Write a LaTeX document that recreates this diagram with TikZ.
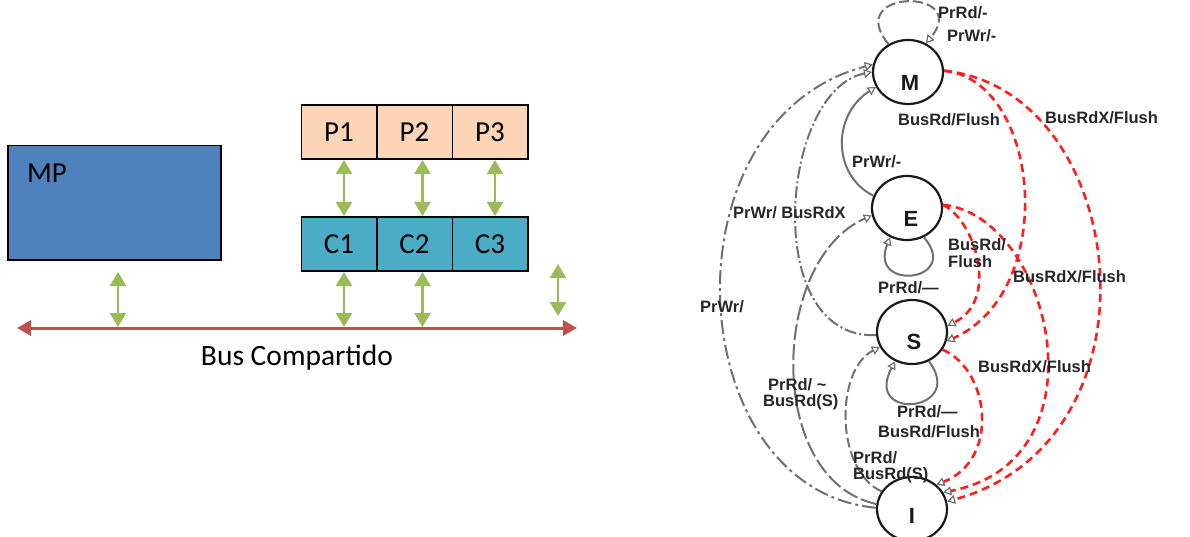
\documentclass[tikz,border=0pt]{standalone}
\usepackage{fontspec}
\setmainfont{Carlito}
\newfontfamily\arialfont{Liberation Sans}
\usetikzlibrary{arrows.meta,shapes.geometric}
\definecolor{mpblue}{HTML}{4F81BD}
\definecolor{cteal}{HTML}{4BACC6}
\definecolor{ppeach}{HTML}{FBD5B5}
\definecolor{agreen}{HTML}{9BBB59}
\definecolor{busred}{HTML}{C0504D}
\definecolor{edgegray}{HTML}{707070}
\definecolor{fsmred}{HTML}{FF1E1E}
\begin{document}
\begin{tikzpicture}[x=1pt,y=-1pt,
  box/.style={draw=black, line width=1.5pt, minimum width=75.5pt, minimum height=54pt, inner sep=0pt, outer sep=0pt, font=\fontsize{29}{32}\selectfont},
  garrow/.style={draw=agreen, line width=2.5pt, shorten >=1pt, shorten <=1pt, {Triangle[width=16pt,length=14pt]}-{Triangle[width=16pt,length=14pt]}},
  busarrow/.style={draw=busred, line width=3pt, {Triangle[width=15pt,length=14pt]}-{Triangle[width=15pt,length=14pt]}},
  st/.style={ellipse, draw=black!90, line width=2.2pt, minimum width=70pt, minimum height=64pt, inner sep=0pt},
  stl/.style={font=\arialfont\bfseries\fontsize{22}{24}\selectfont, text=black!90, inner sep=0pt},
  lbl/.style={font=\arialfont\bfseries\fontsize{16.5}{17}\selectfont, text=black!85, inner sep=0pt, anchor=west},
  ge/.style={draw=edgegray, line width=2pt},
  tipo/.style={-{Triangle[open,width=9pt,length=8pt,line width=1.2pt]}},
  re/.style={draw=fsmred, line width=2.6pt, dash pattern=on 8pt off 5pt, -{Triangle[open,width=9pt,length=8pt,color=edgegray,line width=1.2pt]}}
]
\useasboundingbox (0,0) rectangle (1190,537);

% ---------------- left: bus architecture ----------------
\node[draw=black, line width=1.5pt, fill=mpblue, minimum width=213pt, minimum height=114pt, inner sep=0pt, anchor=north west] (MP) at (7,145) {};
\node[anchor=west, inner sep=0pt, font=\fontsize{29}{32}\selectfont] (mpl) at (27,173) {MP};

\node[box, fill=ppeach] (P1) at (339,132) {P1};
\node[box, fill=ppeach] (P2) at (414.5,132) {P2};
\node[box, fill=ppeach] (P3) at (490,132) {P3};
\node[box, fill=cteal] (C1) at (339,244) {C1};
\node[box, fill=cteal] (C2) at (414.5,244) {C2};
\node[box, fill=cteal] (C3) at (490,244) {C3};

\coordinate (busL) at (17,328);
\coordinate (busR) at (577,328);
\draw[busarrow] (busL) -- (busR);

\draw[garrow] ([xshift=5pt]P1.south) -- ([xshift=5pt]C1.north);
\draw[garrow] ([xshift=8pt]P2.south) -- ([xshift=8pt]C2.north);
\draw[garrow] ([xshift=5pt]P3.south) -- ([xshift=5pt]C3.north);

\coordinate (c1b) at ([xshift=5pt]C1.south);
\coordinate (c2b) at ([xshift=8pt]C2.south);
\draw[garrow] (c1b) -- (c1b |- busL);
\draw[garrow] (c2b) -- (c2b |- busL);

\coordinate (mpa) at (118,271);
\draw[garrow] (mpa) -- (mpa |- busL);
\coordinate (ra1) at (558,263);
\coordinate (ra2) at (558,317);
\draw[garrow] (ra1) -- (ra2);

\node[font=\fontsize{29.5}{32}\selectfont, inner sep=0pt] (bus) at (297,358) {Bus Compartido};

% ---------------- right: MESI state diagram ----------------
\node[st] (M) at (908,72) {};
\node[st] (E) at (907,208) {};
\node[st] (S) at (912,332) {};
\node[st] (I) at (912,509) {};
\node[stl] (Ml) at (910,83) {M};
\node[stl] (El) at (911,219) {E};
\node[stl] (Sl) at (914,342) {S};
\node[stl] (Il) at (912,516) {I};

% gray transitions
\draw[ge, tipo, dash pattern=on 10pt off 4pt] (M.125) .. controls (842,-12) and (972,-12) .. (M.58);
\draw[ge, tipo] (E.160) .. controls (832,175) and (832,115) .. (M.205);
\draw[ge, tipo, dash pattern=on 12pt off 3pt on 2pt off 3pt] (S.185) .. controls (760,340) and (780,90) .. (M.180);
\draw[ge, tipo, dash pattern=on 14pt off 4pt on 3pt off 4pt] (I.178) .. controls (680,490) and (660,120) .. (M.168);
\draw[ge, tipo, dash pattern=on 16pt off 4pt] (I.172) .. controls (765,480) and (770,260) .. (E.192);
\draw[ge, tipo, dash pattern=on 10pt off 4pt] (I.150) .. controls (835,470) and (835,370) .. (S.205);
\draw[ge, tipo] (E.300) .. controls (962,282) and (868,292) .. (E.240);
\draw[ge, tipo] (S.300) .. controls (967,412) and (863,422) .. (S.240);

% red transitions
\draw[re] (M.2) .. controls (1040,80) and (1060,290) .. (S.345);
\draw[re] (M.2) .. controls (1130,90) and (1170,440) .. (I.12);
\draw[re] (E.5) .. controls (975,220) and (1000,300) .. (S.10);
\draw[re] (E.5) .. controls (1050,215) and (1110,460) .. (I.28);
\draw[re] (S.330) .. controls (990,370) and (1000,460) .. (I.45);

% labels
\node[lbl] (l1) at (938,13) {PrRd/-};
\node[lbl] (l2) at (947,36) {PrWr/-};
\node[lbl] (l3) at (898,120) {BusRd/Flush};
\node[lbl] (l4) at (1045,118) {BusRdX/Flush};
\node[lbl] (l5) at (852,162) {PrWr/-};
\node[lbl] (l6) at (733,213) {PrWr/ BusRdX};
\node[lbl] (l7) at (948,245) {BusRd/};
\node[lbl] (l8) at (948,262) {Flush};
\node[lbl] (l9) at (1013,277) {BusRdX/Flush};
\node[lbl] (l10) at (878,288) {PrRd/—};
\node[lbl] (l11) at (700,307) {PrWr/};
\node[lbl] (l12) at (768,385) {PrRd/ \textasciitilde};
\node[lbl] (l13) at (763,402) {BusRd(S)};
\node[lbl] (l14) at (978,367) {BusRdX/Flush};
\node[lbl] (l15) at (897,412) {PrRd/—};
\node[lbl] (l16) at (878,432) {BusRd/Flush};
\node[lbl] (l17) at (853,458) {PrRd/};
\node[lbl] (l18) at (853,475) {BusRd(S)};
\end{tikzpicture}
\end{document}
